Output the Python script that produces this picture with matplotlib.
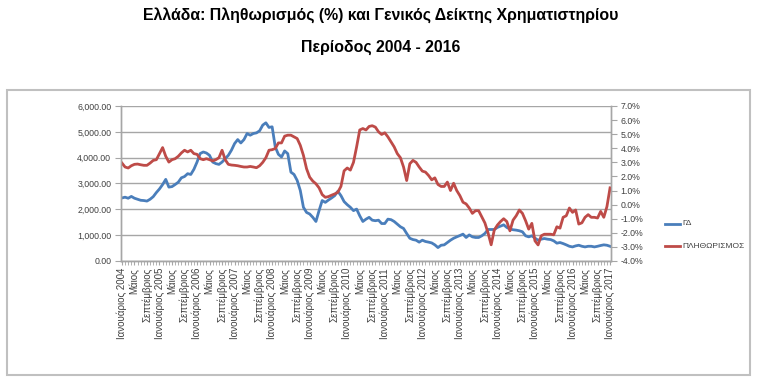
import matplotlib
matplotlib.use('Agg')
import matplotlib.pyplot as plt
from matplotlib.patches import Rectangle
from matplotlib.ticker import FuncFormatter, MultipleLocator

plt.rcParams['font.family'] = ['Liberation Sans', 'DejaVu Sans']

# monthly, Jan 2004 .. Jan 2017
gd = [2440, 2470, 2430, 2500, 2430, 2390, 2350, 2340, 2320, 2390, 2490, 2650,
      2790, 2960, 3160, 2860, 2880, 2960, 3050, 3220, 3270, 3380, 3350, 3550,
      3830, 4160, 4220, 4180, 4090, 3830, 3770, 3740, 3830, 3960, 4090, 4290,
      4545, 4700, 4570, 4700, 4935, 4870, 4935, 4960, 5040, 5260, 5350, 5170,
      5195, 4415, 4130, 4025, 4260, 4155, 3440, 3350, 3120, 2730, 2080, 1880,
      1820, 1690, 1530, 1950, 2340, 2270, 2360, 2440, 2530, 2700, 2530, 2300,
      2180, 2080, 1950, 2010, 1750, 1530, 1620, 1690, 1580, 1560, 1580, 1450,
      1450, 1620, 1600, 1530, 1430, 1325, 1260, 1065, 880, 830, 805, 730,
      805, 755, 730, 700, 625, 520, 610, 625, 715, 805, 880, 935,
      985, 1040, 910, 1010, 935, 910, 910, 975, 1065, 1220, 1220, 1220,
      1300, 1350, 1400, 1300, 1235, 1210, 1195, 1170, 1130, 975, 935, 975,
      885, 805, 845, 870, 845, 830, 780, 690, 715, 675, 625, 570,
      545, 585, 610, 570, 545, 570, 570, 545, 570, 600, 625, 610,
      570]

inflation = [2.95, 2.67, 2.60, 2.76, 2.86, 2.88, 2.83, 2.79, 2.79, 2.95, 3.14, 3.19,
             3.62, 4.05, 3.43, 3.02, 3.19, 3.26, 3.43, 3.67, 3.86, 3.74, 3.86, 3.62,
             3.57, 3.26, 3.19, 3.26, 3.19, 3.10, 3.19, 3.33, 3.86, 3.19, 2.86, 2.81,
             2.79, 2.76, 2.71, 2.67, 2.67, 2.71, 2.67, 2.62, 2.76, 3.00, 3.33, 3.86,
             3.90, 3.98, 4.38, 4.38, 4.86, 4.93, 4.93, 4.81, 4.69, 4.21, 3.50, 2.55,
             1.95, 1.67, 1.48, 1.19, 0.71, 0.52, 0.57, 0.67, 0.76, 0.88, 1.30, 2.40,
             2.60, 2.45, 3.00, 4.10, 5.30, 5.40, 5.30, 5.55, 5.60, 5.50, 5.17, 4.98,
             5.10, 4.81, 4.45, 4.10, 3.62, 3.33, 2.67, 1.71, 2.90, 3.14, 3.00, 2.67,
             2.38, 2.31, 2.07, 1.76, 1.90, 1.43, 1.29, 1.29, 1.60, 1.00, 1.52, 1.00,
             0.64, 0.17, 0.05, -0.24, -0.62, -0.43, -0.43, -0.86, -1.30, -2.00, -2.85, -1.80,
             -1.45, -1.20, -1.00, -1.20, -1.86, -1.10, -0.79, -0.38, -0.62, -1.14, -1.74, -1.33,
             -2.57, -2.86, -2.21, -2.10, -2.10, -2.10, -2.14, -1.57, -1.67, -0.90, -0.79, -0.24,
             -0.55, -0.38, -1.38, -1.29, -0.90, -0.71, -0.90, -0.90, -0.95, -0.48, -0.90, -0.14,
             1.19]

years = list(range(2004, 2018))
month_labels = []
for y in years:
    month_labels += ['Ιανουάριος %d' % y, 'Μάιος', 'Σεπτέμβριος']
month_labels = month_labels[:-2]

title1 = 'Ελλάδα: Πληθωρισμός (%) και Γενικός Δείκτης Χρηματιστηρίου'
title2 = 'Περίοδος 2004 - 2016'

BLUE = '#4a7ebb'
RED = '#be4b48'
GRID = '#a6a6a6'
TXT = '#404040'

W, H = 761, 387
fig = plt.figure(figsize=(W / 100, H / 100), dpi=100)

# outer chart border
fig.patches.append(Rectangle((7 / W, 1 - 375 / H), 743 / W, 285 / H,
                             transform=fig.transFigure, fill=False,
                             edgecolor='#c0c0c0', linewidth=1.5))

fig.text(381 / W, 1 - 15 / H, title1, ha='center', va='center',
         fontsize=11.4, fontweight='bold')
fig.text(381 / W, 1 - 47 / H, title2, ha='center', va='center',
         fontsize=11.4, fontweight='bold')

ax = fig.add_axes([121 / W, 1 - 261 / H, 490 / W, 155 / H])
x = list(range(len(gd)))
l1, = ax.plot(x, gd, color=BLUE, lw=2.0, label='ΓΔ')
ax.set_ylim(0, 6000)
ax.set_xlim(-0.3, len(gd) - 0.7)
ax.yaxis.set_major_locator(MultipleLocator(1000))
ax.yaxis.set_major_formatter(FuncFormatter(lambda v, p: '{:,.2f}'.format(v)))
ax.grid(axis='y', color=GRID, lw=1.0)
ax.set_axisbelow(True)

ax.set_xticks(x, minor=True)
ax.set_xticks(x[::4])
ax.set_xticklabels(month_labels, rotation=90, fontsize=7, color=TXT)
ax.tick_params(axis='x', which='both', length=3, color=GRID, pad=2)
ax.tick_params(axis='y', length=4, color=GRID, labelsize=6.3, labelcolor=TXT, pad=3)

ax2 = ax.twinx()
l2, = ax2.plot(x, inflation, color=RED, lw=2.0, label='ΠΛΗΘΩΡΙΣΜΟΣ')
ax2.set_ylim(-4, 7)
ax2.yaxis.set_major_locator(MultipleLocator(1))
ax2.yaxis.set_major_formatter(FuncFormatter(lambda v, p: '%.1f%%' % v))
ax2.tick_params(axis='y', length=4, color=GRID, labelsize=6.3, labelcolor=TXT, pad=3)

for a in (ax, ax2):
    a.spines['top'].set_visible(False)
    for s in ('left', 'right', 'bottom'):
        a.spines[s].set_color(GRID)
        a.spines[s].set_linewidth(1.0)

# legend drawn by hand: short line + label
leg_items = [(l1, 224), (l2, 246)]
for line, ypx in leg_items:
    fig.add_artist(plt.Line2D([665 / W, 680 / W], [1 - ypx / H, 1 - ypx / H],
                              transform=fig.transFigure, color=line.get_color(), lw=2.0))
    fig.text(682 / W, 1 - ypx / H, line.get_label(), ha='left', va='center',
             fontsize=6, color=TXT)

fig.savefig('out.png', dpi=100)
